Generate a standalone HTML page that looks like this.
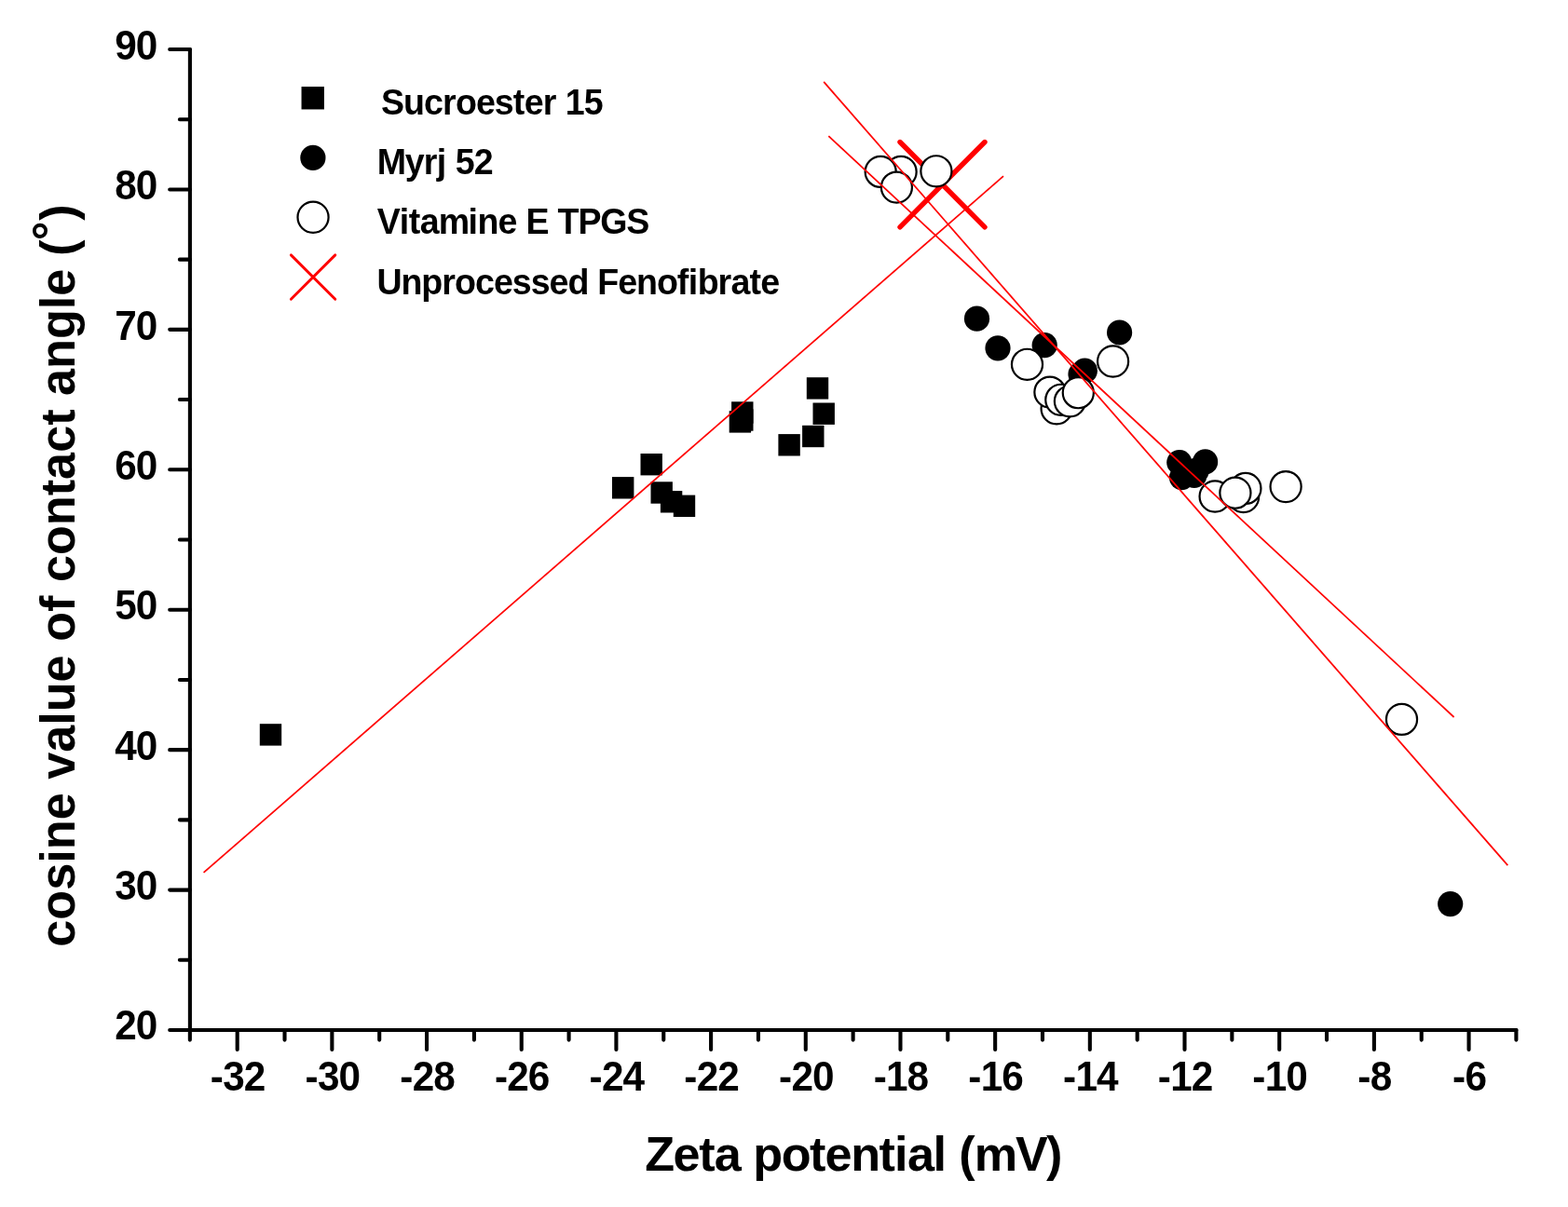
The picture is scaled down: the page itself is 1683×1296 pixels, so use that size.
<!DOCTYPE html>
<html lang="en"><head><meta charset="utf-8"><title>Zeta potential (mV)</title>
<style>html,body{margin:0;padding:0;background:#fff}body{width:1683px;height:1296px;overflow:hidden}svg{display:block}text{font-family:"Liberation Sans",Arial,Helvetica,sans-serif;font-weight:bold;fill:#000;font-kerning:none;font-variant-ligatures:none;font-feature-settings:"liga" 0,"clig" 0,"kern" 0;white-space:pre}</style>
</head><body>
<svg width="1683" height="1296" viewBox="0 0 1683 1296">
<rect width="1683" height="1296" fill="#fff"/>
<g stroke="#000" stroke-width="4.1" stroke-linecap="round" fill="none">
<path d="M203.90 53.00 V1106.00"/>
<path d="M203.90 1106.00 H1627.40"/>
<path d="M203.90 1106.01h-21.70M203.90 1030.80h-11.00M203.90 955.58h-21.70M203.90 880.37h-11.00M203.90 805.15h-21.70M203.90 729.93h-11.00M203.90 654.72h-21.70M203.90 579.50h-11.00M203.90 504.29h-21.70M203.90 429.07h-11.00M203.90 353.86h-21.70M203.90 278.64h-11.00M203.90 203.43h-21.70M203.90 128.22h-11.00M203.90 53.00h-21.70M203.85 1106.00v10.60M254.69 1106.00v20.90M305.53 1106.00v10.60M356.37 1106.00v20.90M407.21 1106.00v10.60M458.06 1106.00v20.90M508.90 1106.00v10.60M559.74 1106.00v20.90M610.58 1106.00v10.60M661.42 1106.00v20.90M712.26 1106.00v10.60M763.10 1106.00v20.90M813.94 1106.00v10.60M864.78 1106.00v20.90M915.62 1106.00v10.60M966.47 1106.00v20.90M1017.31 1106.00v10.60M1068.15 1106.00v20.90M1118.99 1106.00v10.60M1169.83 1106.00v20.90M1220.67 1106.00v10.60M1271.51 1106.00v20.90M1322.35 1106.00v10.60M1373.19 1106.00v20.90M1424.03 1106.00v10.60M1474.88 1106.00v20.90M1525.72 1106.00v10.60M1576.56 1106.00v20.90M1627.40 1106.00v10.60"/>
</g>
<g>
<text transform="translate(123.36 1116.05) scale(1 1.0580)" font-size="42.33" x="0 22.5">20</text>
<text transform="translate(123.36 965.79) scale(1 1.0580)" font-size="42.33" x="0 22.5">30</text>
<text transform="translate(123.36 815.52) scale(1 1.0580)" font-size="42.33" x="0 22.5">40</text>
<text transform="translate(123.36 665.26) scale(1 1.0580)" font-size="42.33" x="0 22.5">50</text>
<text transform="translate(123.36 514.99) scale(1 1.0580)" font-size="42.33" x="0 22.5">60</text>
<text transform="translate(123.36 364.73) scale(1 1.0580)" font-size="42.33" x="0 22.5">70</text>
<text transform="translate(123.36 214.46) scale(1 1.0580)" font-size="42.33" x="0 22.5">80</text>
<text transform="translate(123.36 64.20) scale(1 1.0580)" font-size="42.33" x="0 22.5">90</text>
</g>
<g>
<text transform="translate(225.86 1171.05) scale(1 1.0450)" font-size="42.33" x="0 13.47 35.97">-32</text>
<text transform="translate(327.54 1171.05) scale(1 1.0450)" font-size="42.33" x="0 13.47 35.97">-30</text>
<text transform="translate(429.22 1171.05) scale(1 1.0450)" font-size="42.33" x="0 13.47 35.97">-28</text>
<text transform="translate(530.91 1171.05) scale(1 1.0450)" font-size="42.33" x="0 13.47 35.97">-26</text>
<text transform="translate(632.59 1171.05) scale(1 1.0450)" font-size="42.33" x="0 13.47 35.97">-24</text>
<text transform="translate(734.27 1171.05) scale(1 1.0450)" font-size="42.33" x="0 13.47 35.97">-22</text>
<text transform="translate(835.95 1171.05) scale(1 1.0450)" font-size="42.33" x="0 13.47 35.97">-20</text>
<text transform="translate(937.63 1171.05) scale(1 1.0450)" font-size="42.33" x="0 13.47 35.97">-18</text>
<text transform="translate(1039.32 1171.05) scale(1 1.0450)" font-size="42.33" x="0 13.47 35.97">-16</text>
<text transform="translate(1141.00 1171.05) scale(1 1.0450)" font-size="42.33" x="0 13.47 35.97">-14</text>
<text transform="translate(1242.68 1171.05) scale(1 1.0450)" font-size="42.33" x="0 13.47 35.97">-12</text>
<text transform="translate(1344.36 1171.05) scale(1 1.0450)" font-size="42.33" x="0 13.47 35.97">-10</text>
<text transform="translate(1457.29 1171.05) scale(1 1.0450)" font-size="42.33" x="0 13.47">-8</text>
<text transform="translate(1558.97 1171.05) scale(1 1.0450)" font-size="42.33" x="0 13.47">-6</text>
</g>
<text transform="translate(692.25 1257.45) scale(1 1.0100)" font-size="52.20" x="0 30.36 58.01 74.57 102.21 116.02 146.39 176.75 193.31 220.95 251.32 267.87 281.68 309.33 323.14 336.95 353.5 397.7 430.86">Zeta potential (mV)</text>
<text transform="translate(79.8 1016.7) rotate(-90)" font-size="52.20" x="0 29.03 60.92 89.95 104.45 136.34 165.37 179.87 208.9 237.93 252.44 284.32 313.35 327.86 359.74 377.12 391.63 420.66 452.54 484.43 501.81 530.84 559.88 577.26 591.76 620.79 652.68 684.56 699.07 728.1 742 758.4 779.92" dy="0 0 0 0 0 0 0 0 0 0 0 0 0 0 0 0 0 0 0 0 0 0 0 0 0 0 0 0 0 0 0 -8.5 8.5">cosine value of contact angle (°)</text>
<path d="M966 152.5L1057 243.8M1057 152.5L966 243.8" stroke="#f00" stroke-width="5.4" stroke-linecap="round" fill="none"/>
<g fill="#000">
<rect x="278.80" y="777.20" width="23.4" height="23.4"/>
<rect x="657.00" y="512.10" width="23.4" height="23.4"/>
<rect x="687.50" y="487.00" width="23.4" height="23.4"/>
<rect x="698.50" y="517.30" width="23.4" height="23.4"/>
<rect x="708.90" y="527.10" width="23.4" height="23.4"/>
<rect x="722.80" y="531.60" width="23.4" height="23.4"/>
<rect x="785.10" y="431.30" width="23.4" height="23.4"/>
<rect x="785.10" y="439.30" width="23.4" height="23.4"/>
<rect x="782.70" y="441.20" width="23.4" height="23.4"/>
<rect x="835.40" y="466.10" width="23.4" height="23.4"/>
<rect x="861.10" y="456.80" width="23.4" height="23.4"/>
<rect x="872.50" y="432.50" width="23.4" height="23.4"/>
<rect x="865.80" y="405.20" width="23.4" height="23.4"/>
</g>
<g fill="#000">
<circle cx="1048.50" cy="342.20" r="13.6"/>
<circle cx="1071.00" cy="373.80" r="13.6"/>
<circle cx="1121.20" cy="370.70" r="13.6"/>
<circle cx="1201.60" cy="357.00" r="13.6"/>
<circle cx="1160.00" cy="401.80" r="13.6"/>
<circle cx="1164.30" cy="398.20" r="13.6"/>
<circle cx="1265.80" cy="496.50" r="13.6"/>
<circle cx="1293.60" cy="495.90" r="13.6"/>
<circle cx="1268.50" cy="512.60" r="13.6"/>
<circle cx="1281.80" cy="510.40" r="13.6"/>
<circle cx="1284.40" cy="505.00" r="13.6"/>
<circle cx="1556.70" cy="970.60" r="13.6"/>
</g>
<g fill="#fff" stroke="#000" stroke-width="2.2">
<circle cx="967.10" cy="184.40" r="16.55"/>
<circle cx="945.20" cy="184.40" r="16.55"/>
<circle cx="962.40" cy="201.10" r="16.55"/>
<circle cx="1004.90" cy="183.80" r="16.55"/>
<circle cx="1102.50" cy="391.30" r="16.55"/>
<circle cx="1194.60" cy="388.00" r="16.55"/>
<circle cx="1134.10" cy="438.80" r="16.55"/>
<circle cx="1126.90" cy="421.10" r="16.55"/>
<circle cx="1138.80" cy="429.30" r="16.55"/>
<circle cx="1148.40" cy="430.80" r="16.55"/>
<circle cx="1157.30" cy="421.70" r="16.55"/>
<circle cx="1304.10" cy="533.00" r="16.55"/>
<circle cx="1334.60" cy="533.60" r="16.55"/>
<circle cx="1336.90" cy="524.40" r="16.55"/>
<circle cx="1325.90" cy="529.20" r="16.55"/>
<circle cx="1380.10" cy="522.60" r="16.55"/>
<circle cx="1504.50" cy="772.40" r="16.55"/>
</g>
<g stroke="#f00" stroke-width="1.75" fill="none">
<path d="M218.6 936.9L1077.0 189.2"/>
<path d="M884.2 87.95L1618.3 929.2"/>
<path d="M889.35 146.05L1560.6 770.0"/>
</g>
<rect x="323.55" y="93.05" width="24.4" height="24.4" fill="#000"/>
<circle cx="335.9" cy="169.4" r="13.6" fill="#000"/>
<circle cx="336.05" cy="233.25" r="16.55" fill="#fff" stroke="#000" stroke-width="2.2"/>
<path d="M312.4 273.9L359.8 321.3M359.8 273.9L312.4 321.3" stroke="#f00" stroke-width="2.9" stroke-linecap="round" fill="none"/>
<g>
<text transform="translate(409.05 122.60) scale(1 1.0150)" font-size="37.60" x="0 23.97 45.91 65.9 79.88 101.83 121.81 141.79 153.76 173.74 187.72 197.71 217.69">Sucroester 15</text>
<text transform="translate(404.80 187.35) scale(1 1.0300)" font-size="37.60" x="0 29.93 49.91 63.9 73.88 83.86 103.84">Myrj 52</text>
<text transform="translate(404.75 251.40) scale(1 1.0350)" font-size="37.60" x="0 23.97 33.95 45.91 65.9 97.84 107.83 129.77 149.76 159.74 183.71 193.69 215.64 239.6 267.55">Vitamine E TPGS</text>
<text transform="translate(404.60 315.50) scale(1 1.0100)" font-size="37.60" x="0 25.85 47.72 69.58 83.51 105.38 125.28 145.19 165.1 185.01 204.91 226.78 236.72 258.59 278.5 300.36 322.23 334.15 344.09 365.96 379.89 399.79 411.71">Unprocessed Fenofibrate</text>
</g>
</svg></body></html>
